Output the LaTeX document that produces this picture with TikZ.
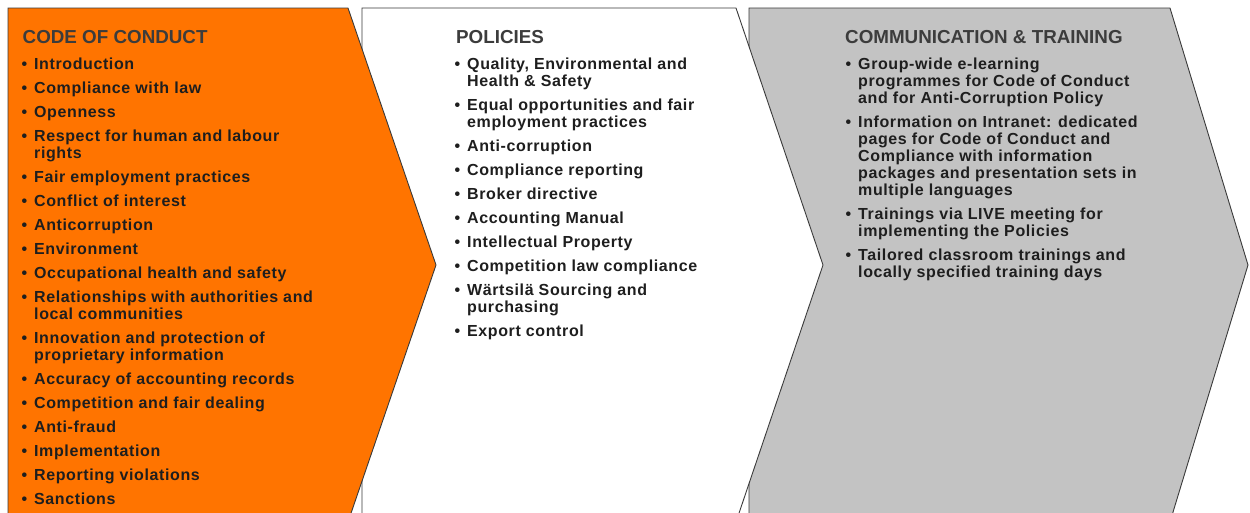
\documentclass[tikz,border=0pt]{standalone}
\usepackage{fontspec}
\setmainfont{Liberation Sans}
\newfontfamily\itemfam{Liberation Sans}[LetterSpace=3.8]
\definecolor{cocorange}{RGB}{255,116,0}
\definecolor{comgray}{RGB}{195,195,195}
\definecolor{edgegray}{RGB}{58,58,58}
\definecolor{titlegray}{RGB}{60,60,60}
\definecolor{itemblack}{RGB}{30,30,30}
\newcommand{\bul}{\llap{\textbullet\hspace{7pt}}}
\newcommand{\ml}[1]{\begin{tabular}[t]{@{}l@{}}#1\end{tabular}}
\tikzset{
  chevron/.style={draw=edgegray, line width=0.9pt, line join=miter},
  coltitle/.style={anchor=base west, inner sep=0pt, text=titlegray,
    font=\bfseries\fontsize{18.8}{20}\selectfont},
  bulletitem/.style={anchor=base west, inner sep=0pt, text=itemblack,
    font=\itemfam\bfseries\fontsize{16}{17}\selectfont},
}
\begin{document}
\begin{tikzpicture}[x=1pt, y=-1pt]
    \useasboundingbox (0,0) rectangle (1250,512);
    \clip (0,0) rectangle (1250,512);

    % chevrons, back to front
    \draw[chevron, fill=comgray] (749,8) -- (1170,8) -- (1248,265) -- (1170,522) -- (749,522) -- cycle;
    \draw[chevron, fill=white] (362,8) -- (736,8) -- (823,265) -- (736,522) -- (362,522) -- cycle;
    \draw[chevron, fill=cocorange] (8,8) -- (348,8) -- (436,265) -- (348,522) -- (8,522) -- cycle;

    % code of conduct
    \node[coltitle] (cocTitle) at (22.5,43) {CODE OF CONDUCT};
    \node[bulletitem] (coc1) at (34,69) {\bul Introduction};
    \node[bulletitem] (coc2) at (34,93) {\bul Compliance with law};
    \node[bulletitem] (coc3) at (34,117) {\bul Openness};
    \node[bulletitem] (coc4) at (34,141) {\bul\ml{Respect for human and labour\\rights}};
    \node[bulletitem] (coc5) at (34,182) {\bul Fair employment practices};
    \node[bulletitem] (coc6) at (34,206) {\bul Conflict of interest};
    \node[bulletitem] (coc7) at (34,230) {\bul Anticorruption};
    \node[bulletitem] (coc8) at (34,254) {\bul Environment};
    \node[bulletitem] (coc9) at (34,278) {\bul Occupational health and safety};
    \node[bulletitem] (coc10) at (34,302) {\bul\ml{Relationships with authorities and\\local communities}};
    \node[bulletitem] (coc11) at (34,343) {\bul\ml{Innovation and protection of\\proprietary information}};
    \node[bulletitem] (coc12) at (34,384) {\bul Accuracy of accounting records};
    \node[bulletitem] (coc13) at (34,408) {\bul Competition and fair dealing};
    \node[bulletitem] (coc14) at (34,432) {\bul Anti-fraud};
    \node[bulletitem] (coc15) at (34,456) {\bul Implementation};
    \node[bulletitem] (coc16) at (34,480) {\bul Reporting violations};
    \node[bulletitem] (coc17) at (34,504) {\bul Sanctions};

    % policies
    \node[coltitle] (polTitle) at (456,43) {POLICIES};
    \node[bulletitem] (pol1) at (467,69) {\bul\ml{Quality, Environmental and\\Health \& Safety}};
    \node[bulletitem] (pol2) at (467,110) {\bul\ml{Equal opportunities and fair\\employment practices}};
    \node[bulletitem] (pol3) at (467,151) {\bul Anti-corruption};
    \node[bulletitem] (pol4) at (467,175) {\bul Compliance reporting};
    \node[bulletitem] (pol5) at (467,199) {\bul Broker directive};
    \node[bulletitem] (pol6) at (467,223) {\bul Accounting Manual};
    \node[bulletitem] (pol7) at (467,247) {\bul Intellectual Property};
    \node[bulletitem] (pol8) at (467,271) {\bul Competition law compliance};
    \node[bulletitem] (pol9) at (467,295) {\bul\ml{Wärtsilä Sourcing and\\purchasing}};
    \node[bulletitem] (pol10) at (467,336) {\bul Export control};

    % communication and training
    \node[coltitle] (comTitle) at (845,43) {COMMUNICATION \& TRAINING};
    \node[bulletitem] (com1) at (858,69) {\bul\ml{Group-wide e-learning\\programmes for Code of Conduct\\and for Anti-Corruption Policy}};
    \node[bulletitem] (com2) at (858,127) {\bul\ml{Information on Intranet: dedicated\\pages for Code of Conduct and\\Compliance with information\\packages and presentation sets in\\multiple languages}};
    \node[bulletitem] (com3) at (858,219) {\bul\ml{Trainings via LIVE meeting for\\implementing the Policies}};
    \node[bulletitem] (com4) at (858,260) {\bul\ml{Tailored classroom trainings and\\locally specified training days}};
\end{tikzpicture}
\end{document}
